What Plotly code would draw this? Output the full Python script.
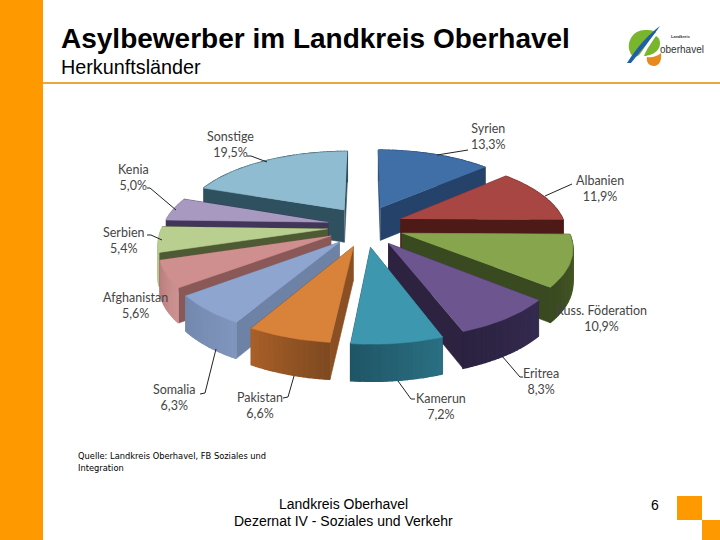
import math
import plotly.graph_objects as go

# ---- data ----
countries = ["Syrien", "Albanien", "Russ. Föderation", "Eritrea", "Kamerun", "Pakistan",
             "Somalia", "Afghanistan", "Serbien", "Kenia", "Sonstige"]
shares = [13.3, 11.9, 10.9, 8.3, 7.2, 6.6, 6.3, 5.6, 5.4, 5.0, 19.5]
top_colors = ["#3f6fa6", "#a84644", "#86a54d", "#6d5590", "#3d97ae", "#d8823a",
              "#8ea5cf", "#cf8f8e", "#b9cf90", "#a899c0", "#8fbcd0"]
wall_dark = ["#25436a", "#4e1a18", "#3a4a20", "#2d2340", "#1c4f5e", "#8a4f22",
             "#6e82a6", "#8a5857", "#4d5a33", "#42355a", "#2f505e"]
rim_colors = [("#25436a", "#2c5080"), ("#6e2a28", "#8a3836"), ("#3a4a20", "#4a5f28"),
              ("#2b2240", "#352a50"), ("#1f5666", "#2a6f82"), ("#a85f28", "#7f4a20"),
              ("#7388ad", "#8095bd"), ("#b87c7b", "#cc9291"), ("#a9be83", "#b4ca8c"),
              ("#8f80a8", "#9c8db5"), ("#2f505e", "#38606f")]
label_pos = [(488, 136), (600, 188), (601, 318), (541, 381), (441, 406), (260, 405),
             (174, 397), (135, 305), (123, 240), (133, 177), (230, 144)]
leader_paths = [[(437, 155), (468, 150)], [(545, 196), (572, 184)], None,
                [(502, 356), (520, 377), (523, 377)], [(398, 381), (411, 399), (415, 399)],
                [(294, 376), (288, 397), (283, 398)], [(216, 349), (205, 393), (200, 394)],
                None, [(162, 240), (151, 235), (147, 235)], [(176, 210), (150, 188), (147, 188)],
                [(267, 162), (251, 156), (247, 156)]]
title_text = "Asylbewerber im Landkreis Oberhavel"
subtitle_text = "Herkunftsländer"
source_lines = ["Quelle: Landkreis Oberhavel, FB Soziales und", "Integration"]
footer_lines = ["Landkreis Oberhavel", "Dezernat IV - Soziales und Verkehr"]
page_number = "6"

# ---- perspective geometry of the exploded pie ----
CX, CY, RX, RY, K, PULL_U, PULL_V, DEPTH = 365.5, 226, 165, 73, 0.165, 0.23, 0.28, 33


def project(u, v):
    s = 1 / (1 - K * v)
    return CX + RX * u * s, CY + RY * v * s, s


def hex_mix(a, b, t):
    ca = [int(a[i:i + 2], 16) for i in (1, 3, 5)]
    cb = [int(b[i:i + 2], 16) for i in (1, 3, 5)]
    return "#%02x%02x%02x" % tuple(round(x + (y - x) * t) for x, y in zip(ca, cb))


fig = go.Figure()


def poly(points, color, width=0.6):
    fig.add_trace(go.Scatter(x=[p[0] for p in points], y=[p[1] for p in points], mode="lines",
                             fill="toself", fillcolor=color, line=dict(color=color, width=width),
                             hoverinfo="skip", showlegend=False))


def quad(a, b):
    (x1, y1, s1), (x2, y2, s2) = a, b
    return [(x1, y1), (x2, y2), (x2, y2 + DEPTH * math.sqrt(s2)), (x1, y1 + DEPTH * math.sqrt(s1))]


wedges = []
acc = 0.0
total = sum(shares)
for i, share in enumerate(shares):
    a0 = acc / total * 2 * math.pi
    acc += share
    a1 = acc / total * 2 * math.pi
    wedges.append((i, a0, a1, (a0 + a1) / 2))

for i, a0, a1, mid in sorted(wedges, key=lambda w: -math.cos(w[3])):
    ou, ov = PULL_U * math.sin(mid), -PULL_V * math.cos(mid)
    n = max(8, int((a1 - a0) * 40))
    rim = [(ou + math.sin(a0 + (a1 - a0) * j / n), ov - math.cos(a0 + (a1 - a0) * j / n))
           for j in range(n + 1)]
    tip3 = project(ou, ov)
    rim3 = [project(u, v) for u, v in rim]
    walls = [(quad(tip3, rim3[0]), wall_dark[i], (ov + rim[0][1]) / 2, 0.6),
             (quad(tip3, rim3[-1]), wall_dark[i], (ov + rim[-1][1]) / 2, 0.6)]
    for j in range(n):
        mix = j / max(1, n - 1)
        walls.append((quad(rim3[j], rim3[j + 1]), hex_mix(rim_colors[i][1], rim_colors[i][0], mix),
                      (rim[j][1] + rim[j + 1][1]) / 2, 1.4))
    for pts, col, _, w in sorted(walls, key=lambda w: w[2]):
        poly(pts, col, w)
    poly([tip3[:2]] + [p[:2] for p in rim3], top_colors[i])

# leader lines
for path in leader_paths:
    if path:
        fig.add_trace(go.Scatter(x=[p[0] for p in path], y=[p[1] for p in path], mode="lines",
                                 line=dict(color="#222222", width=1), hoverinfo="skip", showlegend=False))

annotations = []


def note(x, y, text, size, color="#000000", family="Liberation Sans", anchor="center"):
    annotations.append(dict(x=x, y=y, xref="x", yref="y", text=text, showarrow=False, xanchor=anchor,
                            yanchor="middle", align=anchor if anchor != "center" else "center",
                            font=dict(size=size, color=color, family=family)))


for name, share, (lx, ly) in zip(countries, shares, label_pos):
    note(lx, ly, f"{name}<br>{str(share).replace('.', ',')}%", 12.5, "#454545", "Lato")

note(59, 38, f"<b>{title_text}</b>", 28, anchor="left")
note(59, 67, subtitle_text, 19.8, anchor="left")
note(76, 456, source_lines[0], 8.3, anchor="left", family="DejaVu Sans")
note(76, 468, source_lines[1], 8.3, anchor="left", family="DejaVu Sans")
note(343.5, 504, footer_lines[0], 14)
note(343.5, 521, footer_lines[1], 14)
note(655, 505, page_number, 14)
note(681, 36, "<b>Landkreis</b>", 4, "#333333")
note(682, 49.5, "oberhavel", 10, "#333333")

ORANGE = "#ff9900"
shapes = [
    dict(type="rect", x0=0, x1=43, y0=0, y1=540, fillcolor=ORANGE, line_width=0),
    dict(type="rect", x0=43, x1=720, y0=82, y1=84, fillcolor="#eaa63f", line_width=0),
    dict(type="rect", x0=677, x1=702, y0=496, y1=520, fillcolor=ORANGE, line_width=0),
    dict(type="rect", x0=702, x1=720, y0=520, y1=540, fillcolor=ORANGE, line_width=0),
    # logo
    dict(type="path", path="M 645 30 C 633 30 626 42 630 52 C 632 58 637 58 640 54 C 646 46 650 38 656 32 C 652 30 649 30 645 30 Z",
         fillcolor="#7ab52e", line_width=0),
    dict(type="path", path="M 656 36 C 652 42 646 50 644 56 C 648 56 656 54 659 48 C 661 43 660 38 656 36 Z",
         fillcolor="#7ab52e", line_width=0),
    dict(type="path", path="M 647 57 C 646 62 649 66 654 66 C 659 66 662 61 661 53 C 658 56 652 58 647 57 Z",
         fillcolor="#e68a1e", line_width=0),
    dict(type="path", path="M 660 26 C 650 33 636 48 627 63 L 631 63 C 640 52 652 38 660 26 Z",
         fillcolor="#1f5fa8", line_width=0),
]

fig.update_layout(
    width=720, height=540, margin=dict(l=0, r=0, t=0, b=0), showlegend=False,
    paper_bgcolor="white", plot_bgcolor="white", shapes=shapes, annotations=annotations,
    xaxis=dict(range=[0, 720], visible=False, fixedrange=True),
    yaxis=dict(range=[540, 0], visible=False, fixedrange=True),
)
fig.write_html("out.html", config={"displayModeBar": False},
               post_script="document.body.style.margin='0';document.documentElement.style.overflow='hidden';")
